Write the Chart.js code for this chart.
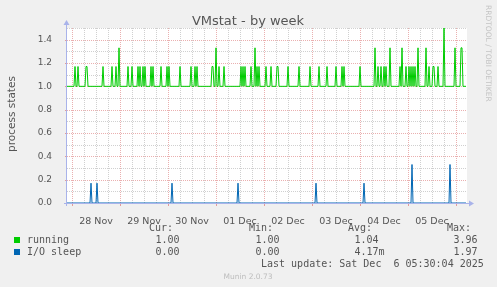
<!DOCTYPE html>
<html>
<head>
<meta charset="utf-8">
<script src="https://cdn.jsdelivr.net/npm/chart.js@4/dist/chart.umd.min.js"></script>
<style>
html, body { margin: 0; padding: 0; background: #f0f0f0; }
#wrap { width: 497px; height: 287px; }
</style>
</head>
<body>
<div id="wrap"><canvas id="vmstat" width="497" height="287"></canvas></div>
<script>
// time axis in hours since 28 Nov 00:00, one sample every 30 min
var startHour = -2.5;
var endHour = 197.5;
var dayLabels = ['28 Nov', '29 Nov', '30 Nov', '01 Dec', '02 Dec', '03 Dec', '04 Dec', '05 Dec'];
var dayNoons = [12, 36, 60, 84, 108, 132, 156, 180];

// running: 1.00 most of the time, these are the samples above it
var runningBase = 1.0;
var runningSpikeHours = [1.5, 3, 7, 7.5, 15.5, 20, 22, 23.5, 28, 30, 33, 34, 35.5, 36.5,
  39.5, 40.5, 44.5, 47.5, 48.5, 54, 59.5, 61.5, 62.5, 70, 70.5, 72, 73.5, 76,
  84.5, 85.5, 86.5, 89.5, 91.5, 92.5, 93.5, 97, 99.5, 102.5, 103, 108, 113.5, 119,
  123.5, 127.5, 132, 135, 136, 144, 151.5, 153, 154.5, 156, 157, 159,
  164, 165, 167, 168.5, 169.5, 170.5, 171.5, 173, 177, 178.5, 180.5, 181, 183,
  186, 191.5, 194.5, 195];
var runningSpikeValues = [1.17, 1.17, 1.17, 1.17, 1.17, 1.17, 1.17, 1.33, 1.17, 1.17, 1.17, 1.17, 1.17, 1.17,
  1.17, 1.17, 1.17, 1.17, 1.17, 1.17, 1.17, 1.17, 1.17, 1.17, 1.17, 1.33, 1.17, 1.17,
  1.17, 1.17, 1.17, 1.17, 1.33, 1.17, 1.17, 1.17, 1.17, 1.17, 1.17, 1.17, 1.17, 1.17,
  1.17, 1.17, 1.17, 1.17, 1.17, 1.17, 1.33, 1.17, 1.17, 1.17, 1.17, 1.33,
  1.17, 1.33, 1.17, 1.17, 1.17, 1.17, 1.17, 1.33, 1.33, 1.17, 1.17, 1.17, 1.17,
  1.5, 1.33, 1.33, 1.33];

// I/O sleep: 0 most of the time
var ioBase = 0;
var ioSpikeHours = [9.5, 12.5, 50, 83, 122, 146, 170, 189];
var ioSpikeValues = [0.17, 0.17, 0.17, 0.17, 0.17, 0.17, 0.33, 0.33];

// legend table
var seriesNames = ['running', 'I/O sleep'];
var seriesColors = ['#00cc00', '#0066b3'];
var curValues = ['1.00', '0.00'];
var minValues = ['1.00', '0.00'];
var avgValues = ['1.04', '4.17m'];
var maxValues = ['3.96', '1.97'];
var lastUpdate = 'Last update: Sat Dec  6 05:30:04 2025';

function buildSeries(base, hours, values, last) {
  var pts = [];
  for (var h = startHour; h <= last; h += 0.5) {
    var i = hours.indexOf(h);
    pts.push({x: h, y: i >= 0 ? values[i] : base});
  }
  return pts;
}

var textColor = '#555555';
var axisColor = '#a9b3ea';
var majorGrid = '#eab0b0';
var minorGrid = '#d0d0d0';

var munin = {
  id: 'munin',
  beforeDraw: function(chart) {
    var c = chart.ctx, a = chart.chartArea;
    c.save();
    c.fillStyle = '#f0f0f0';
    c.fillRect(0, 0, chart.width, chart.height);
    c.fillStyle = '#ffffff';
    c.fillRect(a.left, a.top, a.right - a.left, a.bottom - a.top);
    c.restore();
  },
  beforeDatasetsDraw: function(chart) {
    var c = chart.ctx, a = chart.chartArea;
    var xs = chart.scales.x, ys = chart.scales.y;
    c.save();
    c.lineWidth = 1;
    c.setLineDash([1, 1]);
    // vertical grid every 6 h, red at midnight
    for (var h = 0; h <= endHour; h += 6) {
      var x = Math.round(xs.getPixelForValue(h)) + 0.5;
      c.strokeStyle = (h % 24 === 0) ? majorGrid : minorGrid;
      c.beginPath(); c.moveTo(x, a.top); c.lineTo(x, a.bottom); c.stroke();
    }
    ys.ticks.forEach(function(t) {
      if (t.value <= 0) return;
      var y = Math.round(ys.getPixelForValue(t.value)) + 0.5;
      c.strokeStyle = (Math.round(t.value * 10) % 2 === 0) ? majorGrid : minorGrid;
      c.beginPath(); c.moveTo(a.left, y); c.lineTo(a.right, y); c.stroke();
    });
    c.restore();
  },
  afterDatasetsDraw: function(chart) {
    var c = chart.ctx, a = chart.chartArea;
    var xs = chart.scales.x, ys = chart.scales.y;
    c.save();
    c.lineWidth = 1;
    // small tick marks
    c.strokeStyle = '#e39a9a';
    for (var h = 0; h <= endHour; h += 24) {
      var x = Math.round(xs.getPixelForValue(h)) + 0.5;
      c.beginPath(); c.moveTo(x, a.bottom); c.lineTo(x, a.bottom + 3); c.stroke();
    }
    ys.ticks.forEach(function(t) {
      if (Math.round(t.value * 10) % 2 !== 0) return;
      var y = Math.round(ys.getPixelForValue(t.value)) + 0.5;
      c.beginPath(); c.moveTo(a.left - 2, y); c.lineTo(a.left, y); c.stroke();
    });
    // axes with arrows
    var lx = Math.round(a.left) - 0.5, by = Math.round(a.bottom) + 0.5;
    c.strokeStyle = axisColor;
    c.fillStyle = axisColor;
    c.beginPath(); c.moveTo(lx, a.bottom + 3); c.lineTo(lx, a.top - 4); c.stroke();
    c.beginPath(); c.moveTo(a.left - 3, by); c.lineTo(a.right + 3, by); c.stroke();
    c.beginPath(); c.moveTo(lx - 3, a.top - 3); c.lineTo(lx + 3, a.top - 3); c.lineTo(lx, a.top - 8); c.closePath(); c.fill();
    c.beginPath(); c.moveTo(a.right + 2, by - 3); c.lineTo(a.right + 2, by + 3); c.lineTo(a.right + 7, by); c.closePath(); c.fill();
    c.restore();
  },
  afterDraw: function(chart) {
    var c = chart.ctx;
    c.save();
    // title
    c.fillStyle = textColor;
    c.font = '13px "DejaVu Sans"';
    c.textAlign = 'center';
    c.textBaseline = 'alphabetic';
    c.fillText('VMstat - by week', 248, 25);
    // vertical axis title
    c.save();
    c.translate(12, 114);
    c.rotate(-Math.PI / 2);
    c.font = '10.5px "DejaVu Sans"';
    c.textBaseline = 'middle';
    c.fillText('process states', 0, 0);
    c.restore();
    // watermark
    c.save();
    c.translate(488, 5);
    c.rotate(Math.PI / 2);
    c.fillStyle = '#c4c4c4';
    c.font = '7.5px "DejaVu Sans"';
    c.textAlign = 'left';
    c.textBaseline = 'middle';
    c.fillText('RRDTOOL / TOBI OETIKER', 0, 0);
    c.restore();
    // legend table
    c.font = '10px "DejaVu Sans Mono"';
    c.textAlign = 'left';
    c.fillStyle = textColor;
    c.fillText('Cur:', 149, 231);
    c.fillText('Min:', 249, 231);
    c.fillText('Avg:', 348, 231);
    c.fillText('Max:', 447, 231);
    for (var i = 0; i < seriesNames.length; i++) {
      var y = 243 + i * 12;
      c.fillStyle = seriesColors[i];
      c.fillRect(14, y - 6, 6, 6);
      c.fillStyle = textColor;
      c.fillText(seriesNames[i], 27, y);
      c.fillText(curValues[i], 155.5, y);
      c.fillText(minValues[i], 255.5, y);
      c.fillText(avgValues[i], 354.5, y);
      c.fillText(maxValues[i], 453.5, y);
    }
    c.fillText(lastUpdate, 261, 267);
    c.fillStyle = '#bdbdbd';
    c.font = '7.5px "DejaVu Sans"';
    c.textAlign = 'center';
    c.fillText('Munin 2.0.73', 248, 279);
    c.restore();
  }
};

var ctx = document.getElementById('vmstat');
var chart = new Chart(ctx, {
  type: 'line',
  data: {
    datasets: [{
      label: seriesNames[0],
      data: buildSeries(runningBase, runningSpikeHours, runningSpikeValues, 197),
      borderColor: seriesColors[0],
      borderWidth: 1,
      pointRadius: 0,
      fill: false,
      tension: 0
    }, {
      label: seriesNames[1],
      data: buildSeries(ioBase, ioSpikeHours, ioSpikeValues, 197),
      borderColor: seriesColors[1],
      borderWidth: 1,
      pointRadius: 0,
      fill: false,
      tension: 0
    }]
  },
  options: {
    responsive: false,
    animation: false,
    devicePixelRatio: 1,
    layout: { padding: { top: 28, right: 30, left: 0, bottom: 0 } },
    plugins: { legend: { display: false }, title: { display: false }, tooltip: { enabled: false } },
    scales: {
      x: {
        type: 'linear',
        min: startHour,
        max: endHour,
        afterFit: function(s) { s.height = 84; },
        afterBuildTicks: function(s) { s.ticks = dayNoons.map(function(v) { return {value: v}; }); },
        grid: { display: false },
        border: { display: false },
        ticks: {
          autoSkip: false,
          maxRotation: 0,
          padding: 5,
          color: textColor,
          font: { family: 'DejaVu Sans', size: 9.5 },
          callback: function(v, i) { return dayLabels[i]; }
        }
      },
      y: {
        min: 0,
        max: 1.5,
        afterFit: function(s) { s.width = 67; },
        grid: { display: false },
        border: { display: false },
        ticks: {
          stepSize: 0.1,
          autoSkip: false,
          padding: 7,
          color: textColor,
          font: { family: 'DejaVu Sans', size: 9 },
          callback: function(v) { return Math.round(v * 10) % 2 === 0 ? v.toFixed(1) : ''; }
        }
      }
    }
  },
  plugins: [munin]
});
</script>
</body>
</html>
